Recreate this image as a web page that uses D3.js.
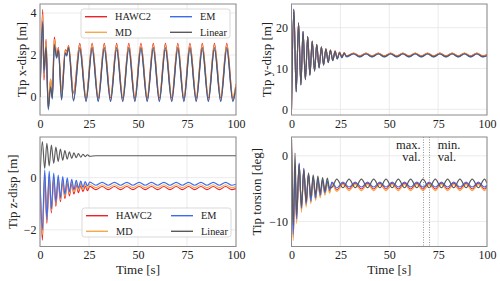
<!DOCTYPE html>
<html><head><meta charset="utf-8">
<script src="https://cdn.jsdelivr.net/npm/d3@7"></script>
<style>
body{margin:0;background:#fff}
text{font-family:"Liberation Serif","DejaVu Serif",serif;fill:#222}
</style>
</head><body>
<svg id="c" width="500" height="281"></svg>
<script>
// ---------- data ----------
const seriesNames = ["HAWC2", "MD", "EM", "Linear"];
const seriesColors = ["#ec2226", "#f6a84a", "#3b6cf0", "#5a5a5a"];
const xTicks = [0, 25, 50, 75, 100];

// Tip x-disp [m]
const tX = [0,1.4,2.0,3.1,4.2,5.4,6.3,7.3,8.5,9.4,11.0,12.9,13.6,14.6,17.1,
  20.3,23.5,26.6,29.7,32.8,36.0,39.1,42.2,45.3,48.4,51.5,54.7,57.8,60.9,64.0,67.2,70.3,73.4,76.5,79.7,82.8,85.9,89.0,92.2,95.3,98.4,100];
const xHAWC2 = [0,4.17,0.8,2.75,-0.45,0.85,0.05,2.85,2.0,2.35,0.25,2.25,2.15,2.45,0.2,
  2.55,-0.05,2.55,-0.05,2.55,-0.05,2.55,-0.05,2.55,-0.05,2.55,-0.05,2.55,-0.05,2.55,-0.05,2.55,-0.05,2.55,-0.05,2.55,-0.05,2.55,-0.05,2.55,-0.05,0.6];
const xMD = [0,3.95,1.0,2.6,-0.3,0.85,0.1,2.75,2.0,2.3,0.25,2.2,2.1,2.4,0.15,
  2.47,0.02,2.47,0.02,2.47,0.02,2.47,0.02,2.47,0.02,2.47,0.02,2.47,0.02,2.47,0.02,2.47,0.02,2.47,0.02,2.47,0.02,2.47,0.02,2.47,0.02,0.6];
const xEM = [0,3.6,1.15,2.3,-0.62,0.45,-0.1,2.4,1.85,2.2,-0.15,2.05,1.95,2.3,-0.2,
  2.25,-0.22,2.25,-0.22,2.25,-0.22,2.25,-0.22,2.25,-0.22,2.25,-0.22,2.25,-0.22,2.25,-0.22,2.25,-0.22,2.25,-0.22,2.25,-0.22,2.25,-0.22,2.25,-0.22,0.45];
const xLinear = [0,3.5,1.3,2.4,-0.55,0.5,-0.05,2.5,1.9,2.25,-0.1,2.1,2.0,2.35,-0.15,
  2.35,-0.18,2.35,-0.18,2.35,-0.18,2.35,-0.18,2.35,-0.18,2.35,-0.18,2.35,-0.18,2.35,-0.18,2.35,-0.18,2.35,-0.18,2.35,-0.18,2.35,-0.18,2.35,-0.18,0.5];

// Tip y-disp [m]
const tY = [0,1.2,2.4,3.6,4.8,5.9,7.1,8.3,9.4,10.6,11.8,12.9,14.1,15.3,16.4,17.6,18.8,19.9,21.1,22.3,23.4,24.6,25.8,26.9,28.1,
  31.8,34.9,38.1,41.2,44.4,47.5,50.7,53.8,57.0,60.1,63.3,66.4,69.6,72.7,75.9,79.0,82.2,85.3,88.5,91.6,94.8,97.9,100];
const yHAWC2 = [0,24.3,4.5,21.1,6.1,19.0,7.4,17.8,8.5,16.7,9.5,15.9,10.3,15.3,11.0,14.8,11.6,14.5,12.1,14.3,12.5,14.0,12.8,13.9,13.1,
  13.8,13.1,13.8,13.1,13.8,13.1,13.8,13.1,13.8,13.1,13.8,13.1,13.8,13.1,13.8,13.1,13.8,13.1,13.8,13.1,13.8,13.1,13.4];
const yMD = [0,24.4,4.4,21.1,6.0,19.0,7.3,17.8,8.4,16.7,9.4,15.9,10.2,15.3,10.9,14.8,11.5,14.5,12.0,14.2,12.4,13.95,12.75,13.85,13.0,
  13.7,13.0,13.7,13.0,13.7,13.0,13.7,13.0,13.7,13.0,13.7,13.0,13.7,13.0,13.7,13.0,13.7,13.0,13.7,13.0,13.7,13.0,13.3];
const yEM = [0,24.6,4.2,21.2,5.9,19.1,7.2,17.8,8.3,16.6,9.3,15.8,10.1,15.2,10.8,14.7,11.4,14.4,11.9,14.1,12.3,13.8,12.6,13.7,12.85,
  13.55,12.85,13.55,12.85,13.55,12.85,13.55,12.85,13.55,12.85,13.55,12.85,13.55,12.85,13.55,12.85,13.55,12.85,13.55,12.85,13.55,12.85,13.1];
const yLinear = [0,24.5,4.3,21.2,6.0,19.1,7.3,17.8,8.4,16.7,9.4,15.9,10.2,15.3,10.9,14.8,11.5,14.5,12.0,14.2,12.4,13.9,12.7,13.8,12.95,
  13.6,12.9,13.6,12.9,13.6,12.9,13.6,12.9,13.6,12.9,13.6,12.9,13.6,12.9,13.6,12.9,13.6,12.9,13.6,12.9,13.6,12.9,13.2];

// Tip z-disp [m]
const tZ = [0,1.2,2.4,3.5,4.7,5.8,7.0,8.1,9.3,10.4,11.6,12.7,13.9,15.0,16.2,17.3,18.5,19.6,20.8,21.9,23.1,24.2,25.4,
  28.5,31.7,34.8,38.0,41.1,44.3,47.4,50.6,53.7,56.9,60.0,63.2,66.3,69.5,72.6,75.8,78.9,82.1,85.2,88.4,91.5,94.7,97.8,100];
const zHAWC2 = [0,-2.4,0.1,-1.75,0.05,-1.35,-0.02,-1.1,-0.08,-0.92,-0.14,-0.8,-0.19,-0.7,-0.23,-0.63,-0.27,-0.58,-0.3,-0.54,-0.32,-0.5,-0.33,
  -0.46,-0.34,-0.46,-0.34,-0.46,-0.34,-0.46,-0.34,-0.46,-0.34,-0.46,-0.34,-0.46,-0.34,-0.46,-0.34,-0.46,-0.34,-0.46,-0.34,-0.46,-0.34,-0.46,-0.42];
const zMD = [0,-2.2,0.2,-1.68,0.14,-1.28,0.07,-1.02,0.0,-0.85,-0.06,-0.72,-0.11,-0.62,-0.15,-0.55,-0.19,-0.49,-0.22,-0.45,-0.24,-0.41,-0.26,
  -0.38,-0.27,-0.38,-0.27,-0.38,-0.27,-0.38,-0.27,-0.38,-0.27,-0.38,-0.27,-0.38,-0.27,-0.38,-0.27,-0.38,-0.27,-0.38,-0.27,-0.38,-0.27,-0.38,-0.34];
const zEM = [0,-2.0,0.3,-1.6,0.25,-1.2,0.18,-0.95,0.1,-0.78,0.04,-0.64,-0.01,-0.54,-0.06,-0.46,-0.1,-0.4,-0.13,-0.36,-0.15,-0.32,-0.17,
  -0.29,-0.18,-0.29,-0.18,-0.29,-0.18,-0.29,-0.18,-0.29,-0.18,-0.29,-0.18,-0.29,-0.18,-0.29,-0.18,-0.29,-0.18,-0.29,-0.18,-0.29,-0.18,-0.29,-0.25];
const zLinear = [0,1.38,0.35,1.32,0.45,1.25,0.55,1.17,0.62,1.1,0.67,1.04,0.71,0.99,0.74,0.95,0.77,0.92,0.79,0.9,0.81,0.88,0.82,
  0.84,0.84,0.84,0.84,0.84,0.84,0.84,0.84,0.84,0.84,0.84,0.84,0.84,0.84,0.84,0.84,0.84,0.84,0.84,0.84,0.84,0.84,0.84,0.84];

// Tip torsion [deg]
const tT = [0,0.9,1.8,2.6,3.9,5.1,6.3,7.5,8.7,9.9,11.1,12.3,13.5,14.7,15.9,17.1,18.3,19.5,20.7,23.15,
  26.3,29.45,32.6,35.75,38.9,42.05,45.2,48.35,51.5,54.65,57.8,60.95,64.1,67.25,70.4,73.55,76.7,79.85,83.0,86.15,89.3,92.45,95.6,98.75,100];
const torHAWC2 = [2.5,-12.4,-2.1,-9.9,-1.2,-8.2,-2.0,-7.5,-2.8,-7.0,-3.3,-6.6,-3.6,-6.2,-3.8,-5.8,-4.0,-5.5,-4.1,-5.2,
  -4.15,-5.05,-4.15,-5.05,-4.15,-5.05,-4.15,-5.05,-4.15,-5.05,-4.15,-5.05,-4.15,-5.05,-4.15,-5.05,-4.15,-5.05,-4.15,-5.05,-4.15,-5.05,-4.15,-5.05,-4.6];
const torMD = [1.5,-12.9,-2.3,-10.3,-1.4,-8.6,-2.2,-7.8,-3.0,-7.3,-3.5,-6.8,-3.8,-6.4,-4.0,-6.0,-4.2,-5.7,-4.3,-5.4,
  -4.35,-5.3,-4.35,-5.3,-4.35,-5.3,-4.35,-5.3,-4.35,-5.3,-4.35,-5.3,-4.35,-5.3,-4.35,-5.3,-4.35,-5.3,-4.35,-5.3,-4.35,-5.3,-4.35,-5.3,-4.85];
const torEM = [1.0,-12.0,-2.0,-9.6,-1.1,-8.0,-1.9,-7.3,-2.7,-6.9,-3.2,-6.4,-3.5,-6.0,-3.7,-5.6,-3.9,-5.2,-4.0,-4.9,
  -4.0,-4.75,-4.0,-4.75,-4.0,-4.75,-4.0,-4.75,-4.0,-4.75,-4.0,-4.75,-4.0,-4.75,-4.0,-4.75,-4.0,-4.75,-4.0,-4.75,-4.0,-4.75,-4.0,-4.75,-4.4];
const torLinear = [2.5,-10.5,0.4,-9.0,-1.4,-7.6,-2.3,-7.0,-2.6,-6.3,-2.9,-5.9,-3.1,-5.6,-3.3,-5.3,-3.4,-4.9,-4.8,-3.55,
  -4.85,-3.55,-4.85,-3.55,-4.85,-3.55,-4.85,-3.55,-4.85,-3.55,-4.85,-3.55,-4.85,-3.55,-4.85,-3.55,-4.85,-3.55,-4.85,-3.55,-4.85,-3.55,-4.85,-3.55,-4.2];

const markerTimes = [67.5, 70.6];

// ---------- layout ----------
const panels = [
  {x0:40, x1:236, y0:4, y1:115, yDom:[-0.86,4.43], yTicks:[0,2,4], label:"Tip x-disp [m]", labelX:21,
   t:tX, data:[xHAWC2,xMD,xEM,xLinear], xlabel:false, legend:{x:81,y:9}},
  {x0:291.5, x1:487, y0:4, y1:115, yDom:[-1.4,25.8], yTicks:[0,10,20], label:"Tip y-disp [m]", labelX:266,
   t:tY, data:[yHAWC2,yMD,yEM,yLinear], xlabel:false},
  {x0:40, x1:236, y0:137, y1:246.5, yDom:[-2.64,1.56], yTicks:[-2,0], label:"Tip z-disp [m]", labelX:12,
   t:tZ, data:[zHAWC2,zMD,zEM,zLinear], xlabel:true, legend:{x:82,y:208}},
  {x0:291.5, x1:487, y0:137, y1:246.5, yDom:[-13.8,2.86], yTicks:[-10,0], label:"Tip torsion [deg]", labelX:256,
   t:tT, data:[torHAWC2,torMD,torEM,torLinear], xlabel:true, markers:true}
];

const svg = d3.select("#c");
svg.append("rect").attr("width",500).attr("height",281).attr("fill","#fff");
const fmt = d => d < 0 ? "\u2212" + Math.abs(d) : String(d);

panels.forEach(p => {
  const x = d3.scaleLinear().domain([0,100]).range([p.x0,p.x1]);
  const y = d3.scaleLinear().domain(p.yDom).range([p.y1,p.y0]);
  const g = svg.append("g");
  const clipId = "clip" + Math.round(p.x0) + "_" + Math.round(p.y0);
  svg.append("clipPath").attr("id",clipId).append("rect")
    .attr("x",p.x0).attr("y",p.y0).attr("width",p.x1-p.x0).attr("height",p.y1-p.y0);

  // grid
  g.selectAll(".gx").data(xTicks).join("line")
    .attr("x1",d=>x(d)).attr("x2",d=>x(d)).attr("y1",p.y0).attr("y2",p.y1)
    .attr("stroke","#e6e6e6").attr("stroke-width",0.8);
  g.selectAll(".gy").data(p.yTicks).join("line")
    .attr("y1",d=>y(d)).attr("y2",d=>y(d)).attr("x1",p.x0).attr("x2",p.x1)
    .attr("stroke","#e6e6e6").attr("stroke-width",0.8);

  // axes
  const ax = g.append("g").attr("transform",`translate(0,${p.y1})`)
    .call(d3.axisBottom(x).tickValues(xTicks).tickSize(0).tickPadding(4).tickFormat(fmt));
  ax.select(".domain").remove();
  ax.selectAll("text").attr("font-size",12).attr("fill","#222")
    .style("font-family",'"Liberation Serif",serif');
  const ay = g.append("g").attr("transform",`translate(${p.x0},0)`)
    .call(d3.axisLeft(y).tickValues(p.yTicks).tickSize(0).tickPadding(3.5).tickFormat(fmt));
  ay.select(".domain").remove();
  ay.selectAll("text").attr("font-size",12).attr("fill","#222")
    .style("font-family",'"Liberation Serif",serif');

  // lines
  const lg = g.append("g").attr("clip-path",`url(#${clipId})`);
  p.data.forEach((vals,i) => {
    const pts = p.t.map((t,k)=>[t,vals[k]]);
    lg.append("path").datum(pts)
      .attr("fill","none").attr("stroke",seriesColors[i]).attr("stroke-width",1.15)
      .attr("d", d3.line().x(d=>x(d[0])).y(d=>y(d[1])).curve(d3.curveMonotoneX));
  });

  // markers
  if (p.markers) {
    markerTimes.forEach(mt => {
      g.append("line").attr("x1",x(mt)).attr("x2",x(mt)).attr("y1",p.y0).attr("y2",p.y1)
        .attr("stroke","#777").attr("stroke-width",0.8).attr("stroke-dasharray","1,1.5");
    });
    [["max.",148.5],["val.",161]].forEach(([s,yy]) =>
      g.append("text").attr("x",x(66.1)).attr("y",yy).attr("text-anchor","end").attr("font-size",12.5).text(s));
    [["min.",148.5],["val.",161]].forEach(([s,yy]) =>
      g.append("text").attr("x",x(74.8)).attr("y",yy).attr("font-size",12.5).text(s));
  }

  // spines
  g.append("rect").attr("x",p.x0).attr("y",p.y0).attr("width",p.x1-p.x0).attr("height",p.y1-p.y0)
    .attr("fill","none").attr("stroke","#8a8a8a").attr("stroke-width",1);

  // y label
  g.append("text").attr("transform",`translate(${p.labelX},${(p.y0+p.y1)/2}) rotate(-90)`)
    .attr("text-anchor","middle").attr("dominant-baseline","central").attr("font-size",13).text(p.label);
  if (p.xlabel) {
    g.append("text").attr("x",(p.x0+p.x1)/2).attr("y",273.5).attr("text-anchor","middle")
      .attr("font-size",13).text("Time [s]");
  }

  // legend
  if (p.legend) {
    const L = g.append("g").attr("transform",`translate(${p.legend.x},${p.legend.y})`);
    L.append("rect").attr("width",149).attr("height",29).attr("rx",2.5)
      .attr("fill","#fff").attr("fill-opacity",0.8).attr("stroke","#cfcfcf").attr("stroke-width",0.8);
    const pos = [[0,0],[0,1],[1,0],[1,1]];
    seriesNames.forEach((n,i) => {
      const cx = pos[i][0]*85, ry = 7.7 + pos[i][1]*15.6;
      L.append("line").attr("x1",4+cx).attr("x2",26+cx).attr("y1",ry).attr("y2",ry)
        .attr("stroke",seriesColors[i]).attr("stroke-width",1.4);
      L.append("text").attr("x",34+cx).attr("y",ry+3.6).attr("font-size",10.3).text(n);
    });
  }
});
</script>
</body></html>
